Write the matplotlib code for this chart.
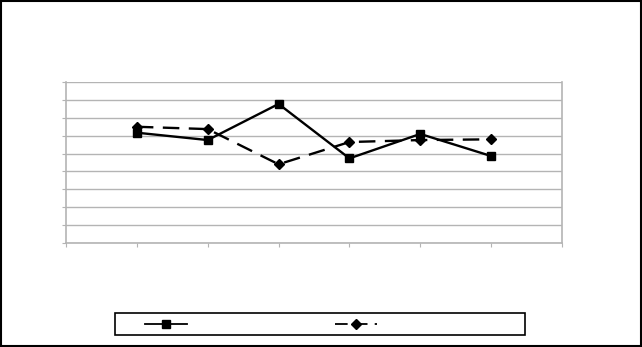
import matplotlib.pyplot as plt
from matplotlib.lines import Line2D
from matplotlib.patches import Rectangle


# category positions (first and last slot left empty, as in the source)
x_pos = [1, 2, 3, 4, 5, 6]
series_square = [6.16, 5.75, 7.76, 4.73, 6.09, 4.86]
series_diamond = [6.49, 6.36, 4.40, 5.64, 5.75, 5.79]
y_ticks = list(range(0, 10))
x_ticks = list(range(0, 8))

GRID = '#b4b4b4'

fig = plt.figure(figsize=(6.42, 3.47), dpi=100)
ax = fig.add_axes([66 / 642, 1 - 243.3 / 347, 496 / 642, 161.6 / 347])

ax.plot(x_pos, series_square, color='black', linewidth=1.7, marker='s',
        markersize=6, label='')
ax.plot(x_pos, series_diamond, color='black', linewidth=1.7, marker='D',
        markersize=5, dashes=(7, 4), label='')

ax.set_xlim(0, 7)
ax.set_ylim(0, 9)
ax.set_xticks(x_ticks)
ax.set_yticks(y_ticks)
ax.set_xticklabels([])
ax.set_yticklabels([])
ax.tick_params(axis='both', direction='out', length=3, width=0.8, color=GRID)
ax.yaxis.grid(True, color=GRID, linewidth=1)
ax.set_axisbelow(True)
for side in ['left', 'bottom', 'right']:
    ax.spines[side].set_color(GRID)
    ax.spines[side].set_linewidth(1.2)
ax.spines['top'].set_visible(False)

# legend: box drawn separately, entries spread inside it
handles = [
    Line2D([], [], color='black', linewidth=1.3, marker='s', markersize=6),
    Line2D([], [], color='black', linewidth=1.3, marker='D', markersize=5,
           dashes=(7, 4)),
]
fig.legend(handles, ['', ''], ncol=2, mode='expand', frameon=False,
           bbox_to_anchor=(145 / 642, 1 - 336 / 347, 232 / 642, 22 / 347),
           loc='center', handlelength=3.8, handletextpad=0, borderpad=0,
           borderaxespad=0, fontsize=8)
fig.patches.append(Rectangle((115 / 642, 1 - 335 / 347), 410 / 642, 22 / 347,
                             transform=fig.transFigure, fill=False,
                             edgecolor='black', linewidth=1.2))

# outer chart border
fig.patches.append(Rectangle((0.001, 0.002), 0.997, 0.996,
                             transform=fig.transFigure, fill=False,
                             edgecolor='black', linewidth=1.5))

fig.savefig('out.png', dpi=100)
